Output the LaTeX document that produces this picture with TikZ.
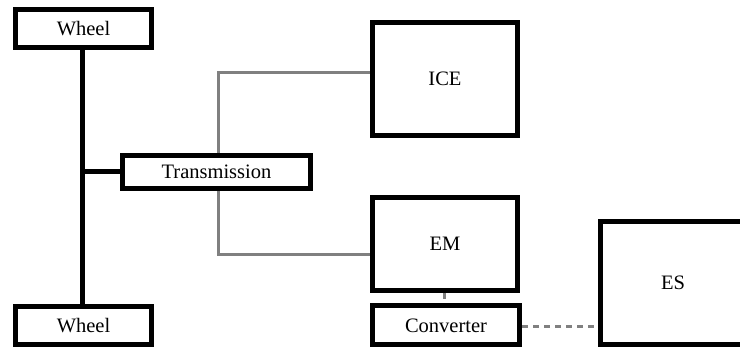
\documentclass[tikz,border=0pt]{standalone}
\usepackage{fontspec}
\setmainfont{Liberation Serif}
\begin{document}
\begin{tikzpicture}[x=1pt,y=-1pt,
  blk/.style={draw=black,line width=5pt,fill=white,inner sep=0pt,
    font=\fontsize{20.5}{24}\selectfont},
  shaft/.style={draw=black,line width=5pt},
  mech/.style={draw=black!50,line width=3pt},
  elec/.style={draw=black!50,line width=3pt,dash pattern=on 6pt off 5pt}]
\useasboundingbox (0,0) rectangle (740,347);
\clip (0,0) rectangle (740,347);
% components
\node[blk,minimum width=136pt,minimum height=38pt] (wheelT) at (83.5,28.5) {Wheel};
\node[blk,minimum width=136pt,minimum height=38pt] (wheelB) at (83.5,325.5) {Wheel};
\node[blk,minimum width=188pt,minimum height=33pt] (trans) at (216.5,172) {Transmission};
\node[blk,minimum width=145pt,minimum height=113pt] (ice) at (445,79) {ICE};
\node[blk,minimum width=145pt,minimum height=93pt] (em) at (445,244) {EM};
\node[blk,minimum width=147pt,minimum height=39pt] (conv) at (446,325.5) {Converter};
\node[blk,minimum width=145pt,minimum height=123pt] (es) at (673,283) {ES};
% axle between the wheels
\coordinate (hub) at (82,172);
\draw[shaft] ([xshift=-1.5pt]wheelT.south) -- ([xshift=-1.5pt]wheelB.north);
\draw[shaft] (hub) -- (trans.west);
% mechanical couplings
\draw[mech] ([xshift=1.5pt]trans.north) |- ([yshift=6.3pt]ice.west);
\draw[mech] ([xshift=1.5pt]trans.south) |- ([yshift=-11pt]em.west);
% electrical links
\draw[elec] ([xshift=-1pt]em.south) -- ([xshift=-2pt]conv.north);
\draw[elec] ([yshift=-1pt]conv.east) -- ([yshift=-1pt]conv.east -| es.west);
\end{tikzpicture}
\end{document}
